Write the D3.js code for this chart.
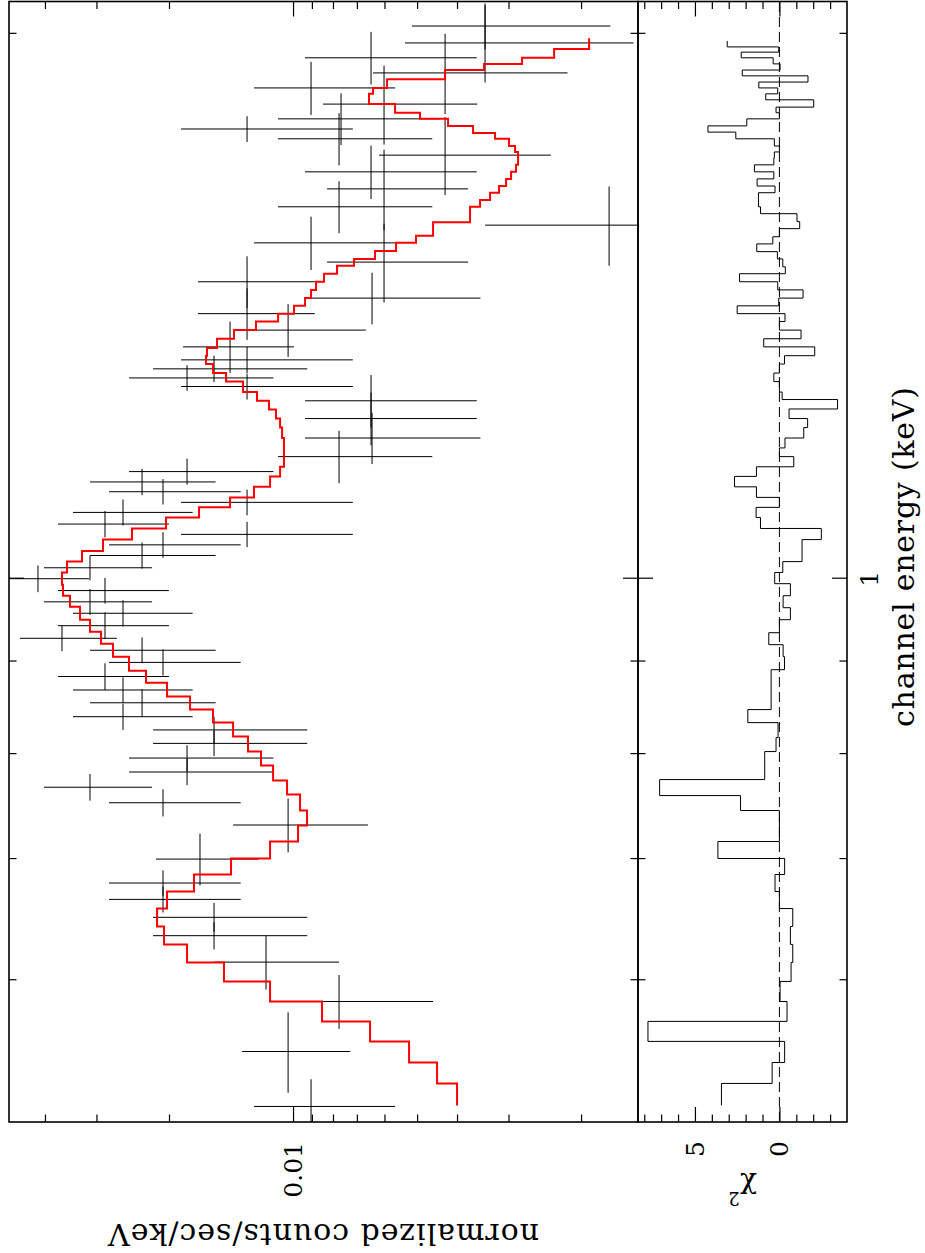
<!DOCTYPE html>
<html>
<head>
<meta charset="utf-8">
<script src="https://cdn.jsdelivr.net/npm/d3@7"></script>
<style>
  body { margin: 0; background: #fff; }
  text { font-family: "DejaVu Serif", serif; fill: #000; }
</style>
</head>
<body>
<div id="chart"></div>
<script>
// data points (listed from high to low energy)
const energy = [2.020, 1.977, 1.940, 1.903, 1.867, 1.829, 1.795, 1.772, 1.750, 1.714,
  1.678, 1.642, 1.605, 1.568, 1.533, 1.496, 1.459, 1.429, 1.401, 1.372,
  1.343, 1.321, 1.306, 1.291, 1.277, 1.254, 1.226, 1.196, 1.168, 1.146,
  1.131, 1.117, 1.102, 1.088, 1.072, 1.058, 1.044, 1.030, 1.014, 1.000,
  0.985, 0.971, 0.957, 0.942, 0.927, 0.913, 0.899, 0.883, 0.868, 0.854,
  0.839, 0.825, 0.811, 0.796, 0.782, 0.767, 0.752, 0.731, 0.700, 0.679,
  0.665, 0.650, 0.635, 0.614, 0.584, 0.548, 0.511];
const energyErr = [0.059, 0.097, 0.065, 0.097, 0.063, 0.092, 0.059, 0.029, 0.058, 0.085,
  0.057, 0.084, 0.053, 0.079, 0.052, 0.075, 0.048, 0.047, 0.046, 0.046,
  0.044, 0.022, 0.022, 0.021, 0.021, 0.042, 0.041, 0.039, 0.039, 0.019,
  0.019, 0.018, 0.018, 0.018, 0.018, 0.017, 0.017, 0.017, 0.016, 0.017,
  0.016, 0.016, 0.016, 0.016, 0.015, 0.015, 0.015, 0.015, 0.014, 0.015,
  0.014, 0.014, 0.013, 0.013, 0.013, 0.013, 0.013, 0.025, 0.023, 0.011,
  0.011, 0.012, 0.011, 0.021, 0.020, 0.028, 0.018];
const rate = [0.00342, 0.00342, 0.006467, 0.004276, 0.009043, 0.006014, 0.007647, 0.01293, 0.007733, 0.004276,
  0.006467, 0.006014, 0.007733, 0.00171, 0.009043, 0.006014, 0.01293, 0.006431, 0.01293, 0.01028,
  0.01422, 0.01293, 0.01555, 0.01808, 0.01293, 0.006467, 0.006467, 0.006431, 0.007733, 0.01808,
  0.02325, 0.02068, 0.01293, 0.02586, 0.0286, 0.01293, 0.02068, 0.02325, 0.0311, 0.04159,
  0.0286, 0.0311, 0.02586, 0.0286, 0.03637, 0.02325, 0.02068, 0.0286, 0.02586, 0.02325,
  0.02586, 0.01555, 0.01555, 0.01808, 0.01808, 0.0311, 0.02068, 0.01028, 0.01682, 0.02068,
  0.02068, 0.01555, 0.01555, 0.01163, 0.007733, 0.01028, 0.009043];
const rateErr = [0.001723, 0.001928, 0.002885, 0.002119, 0.003391, 0.002442, 0.003227, 0.00577, 0.00314, 0.001908,
  0.002885, 0.002255, 0.00314, 0.00171, 0.003391, 0.002255, 0.004074, 0.002922, 0.004074, 0.00362,
  0.004272, 0.00577, 0.006314, 0.006919, 0.00577, 0.002885, 0.002885, 0.002922, 0.00314, 0.006919,
  0.007837, 0.007281, 0.00577, 0.008337, 0.008591, 0.00577, 0.007281, 0.007837, 0.009116, 0.01031,
  0.008591, 0.009116, 0.008337, 0.008591, 0.009614, 0.007837, 0.007281, 0.008591, 0.008337, 0.007837,
  0.008337, 0.006314, 0.006314, 0.006919, 0.006919, 0.009116, 0.007281, 0.003699, 0.004686, 0.007281,
  0.007281, 0.006314, 0.006314, 0.003896, 0.003161, 0.003015, 0.003391];

// model histogram: bin edges (keV) and folded model per bin
const modelEdges = [1.989, 1.962, 1.940, 1.925, 1.910, 1.888, 1.867, 1.853, 1.829, 1.809,
  1.795, 1.779, 1.763, 1.750, 1.734, 1.721, 1.693, 1.678, 1.663, 1.648,
  1.634, 1.619, 1.605, 1.574, 1.547, 1.533, 1.517, 1.502, 1.489, 1.474,
  1.459, 1.444, 1.429, 1.415, 1.401, 1.387, 1.372, 1.357, 1.341, 1.328,
  1.314, 1.299, 1.285, 1.268, 1.254, 1.240, 1.226, 1.212, 1.196, 1.153,
  1.139, 1.124, 1.109, 1.095, 1.081, 1.066, 1.051, 1.036, 1.022, 1.008,
  0.9924, 0.9786, 0.9650, 0.9492, 0.9348, 0.9207, 0.9056, 0.8896, 0.8761, 0.8607,
  0.8466, 0.8327, 0.8180, 0.8026, 0.7884, 0.7735, 0.7599, 0.7446, 0.7305, 0.7158,
  0.7005, 0.6864, 0.6717, 0.6573, 0.6425, 0.6280, 0.6137, 0.5991, 0.5840, 0.5694,
  0.5551, 0.5404, 0.5262, 0.5117];
const modelRate = [0.001912, 0.002325, 0.002781, 0.003439, 0.004276, 0.005913, 0.006395, 0.00654, 0.005655, 0.004918,
  0.004205, 0.003657, 0.003234, 0.002991, 0.002892, 0.002844, 0.002876, 0.002957, 0.003041, 0.003162,
  0.003326, 0.003517, 0.003719, 0.004573, 0.005029, 0.005623, 0.006324, 0.007111, 0.00782, 0.008409,
  0.008794, 0.009043, 0.009351, 0.009944, 0.01087, 0.0123, 0.01391, 0.01529, 0.01617, 0.01626,
  0.01564, 0.01454, 0.01322, 0.01223, 0.01144, 0.011, 0.01075, 0.01063, 0.01052, 0.01075,
  0.01137, 0.01244, 0.01422, 0.01691, 0.02034, 0.02459, 0.02892, 0.03252, 0.03536, 0.03637,
  0.03616, 0.03478, 0.03288, 0.0311, 0.02924, 0.02735, 0.02501, 0.02274, 0.02022, 0.01778,
  0.01564, 0.01398, 0.01286, 0.01196, 0.01118, 0.01034, 0.009616, 0.009247, 0.009724, 0.01137,
  0.01414, 0.01739, 0.02022, 0.02138, 0.02056, 0.01808, 0.01471, 0.01137, 0.008504, 0.006503,
  0.005229, 0.004472, 0.003999];

// residuals: bin edges (keV) and chi-squared contribution per bin
const chiEdges = [1.982, 1.967, 1.954, 1.940, 1.925, 1.910, 1.896, 1.881, 1.867, 1.853,
  1.839, 1.822, 1.809, 1.795, 1.779, 1.765, 1.750, 1.734, 1.721, 1.708,
  1.693, 1.678, 1.663, 1.648, 1.634, 1.619, 1.605, 1.591, 1.575, 1.561,
  1.545, 1.531, 1.516, 1.502, 1.487, 1.474, 1.459, 1.444, 1.429, 1.415,
  1.401, 1.387, 1.372, 1.357, 1.343, 1.328, 1.314, 1.299, 1.285, 1.268,
  1.256, 1.241, 1.226, 1.212, 1.196, 1.181, 1.168, 1.153, 1.139, 1.124,
  1.109, 1.095, 1.081, 1.066, 1.051, 1.022, 1.008, 0.9937, 0.9786, 0.9638,
  0.9492, 0.9336, 0.9195, 0.9056, 0.8907, 0.8466, 0.8327, 0.8170, 0.8026, 0.7745,
  0.7589, 0.7446, 0.7158, 0.7005, 0.6864, 0.6717, 0.6573, 0.6425, 0.6280, 0.6137,
  0.5991, 0.5840, 0.5694, 0.5551, 0.5404, 0.5262, 0.5117];
const chiValue = [3.09, 0.04, 2.26, 0.37, -0.04, 2.20, -1.69, 1.22, 0.10, 0.81,
  -2.03, 0.20, 0.00, 1.93, 4.23, 2.58, 0.30, 0.00, 0.30, 0.33,
  1.48, 0.33, 1.32, 0.26, 1.24, 1.24, 1.12, -1.04, -1.20, 0.00,
  0.39, 1.34, 0.12, -0.20, -0.35, 2.36, 0.10, -1.40, 0.04, 2.50,
  -0.33, 0.00, -1.28, 0.93, -2.09, -0.30, 0.00, 0.33, 0.00, -0.16,
  -3.44, -0.57, -1.67, -1.44, -0.33, 0.00, -0.85, 1.36, 2.66, 1.36,
  0.00, 1.38, 1.12, -2.48, -1.34, -0.20, 0.28, -0.65, -0.22, -0.65,
  0.00, 0.63, -0.22, -0.30, 0.49, 1.87, 0.08, 0.20, 0.87, 7.09,
  2.30, 0.00, 3.64, -0.31, 0.26, 0.00, -0.79, -0.65, -0.79, -0.69,
  -0.04, -0.45, 7.78, -0.31, 0.43, 3.43];

// tick values
const energyMinor = [0.6, 0.7, 0.8, 0.9, 2];
const energyMajor = [1];
const rateMinor = [0.002, 0.003, 0.004, 0.005, 0.006, 0.007, 0.008, 0.009, 0.02, 0.03, 0.04];
const rateMajor = [0.01];
const chiMinor = [-3, -2, -1, 1, 2, 3, 4, 6, 7, 8];
const chiMajor = [0, 5];

// the plot is laid out landscape and then turned a quarter to the left
const W = 1253, H = 925;
const svg = d3.select("#chart").append("svg")
  .attr("width", H)
  .attr("height", W);

const g = svg.append("g")
  .attr("transform", "translate(0," + W + ") rotate(-90)");

const xLeft = 131, xRight = 1251.5;
const yTop = 9, yMid = 638, yBottom = 847;

const x = d3.scaleLog().domain([0.501, 2.084]).range([xLeft, xRight]);
const y = d3.scaleLog().domain([0.001455, 0.0489]).range([yMid, yTop]);
const yChi = d3.scaleLinear().domain([-4, 8.37]).range([yBottom, yMid]);

const defs = g.append("defs");
defs.append("clipPath").attr("id", "clipSpec").append("rect")
  .attr("x", xLeft).attr("y", yTop).attr("width", xRight - xLeft).attr("height", yMid - yTop);
defs.append("clipPath").attr("id", "clipChi").append("rect")
  .attr("x", xLeft).attr("y", yMid).attr("width", xRight - xLeft).attr("height", yBottom - yMid);

// data crosses
const pts = energy.map((e, i) => ({ e: e, de: energyErr[i], c: rate[i], dc: rateErr[i] }));
const spec = g.append("g").attr("clip-path", "url(#clipSpec)")
  .attr("stroke", "#000").attr("stroke-width", 1);

spec.selectAll("line.ebar")
  .data(pts)
  .enter()
  .append("line")
  .attr("class", "ebar")
  .attr("x1", d => x(d.e - d.de))
  .attr("x2", d => x(d.e + d.de))
  .attr("y1", d => y(d.c))
  .attr("y2", d => y(d.c));

spec.selectAll("line.cbar")
  .data(pts)
  .enter()
  .append("line")
  .attr("class", "cbar")
  .attr("x1", d => x(d.e))
  .attr("x2", d => x(d.e))
  .attr("y1", d => y(Math.max(d.c - d.dc, y.domain()[0] * 0.5)))
  .attr("y2", d => y(d.c + d.dc));

// step histograms
function steps(edges, vals) {
  const p = [];
  vals.forEach((v, i) => { p.push([edges[i], v], [edges[i + 1], v]); });
  return p;
}

g.append("path")
  .attr("clip-path", "url(#clipSpec)")
  .attr("d", d3.line().x(d => x(d[0])).y(d => y(d[1]))(steps(modelEdges, modelRate)))
  .attr("fill", "none")
  .attr("stroke", "#ff0000")
  .attr("stroke-width", 2);

g.append("line")
  .attr("x1", xLeft).attr("x2", xRight)
  .attr("y1", yChi(0)).attr("y2", yChi(0))
  .attr("stroke", "#000")
  .attr("stroke-width", 1)
  .attr("stroke-dasharray", "10,5");

g.append("path")
  .attr("clip-path", "url(#clipChi)")
  .attr("d", d3.line().x(d => x(d[0])).y(d => yChi(d[1]))(steps(chiEdges, chiValue)))
  .attr("fill", "none")
  .attr("stroke", "#000")
  .attr("stroke-width", 1);

// ticks point inwards on every side of both panels
function ticks(axis, scale, vals, size, tx, ty) {
  g.append("g")
    .attr("transform", "translate(" + tx + "," + ty + ")")
    .call(axis(scale).tickValues(vals).tickSize(-size).tickFormat(""))
    .call(a => a.select(".domain").remove())
    .selectAll("line").attr("stroke", "#000").attr("stroke-width", 1.2);
}

[[energyMinor, 7.5], [energyMajor, 15]].forEach(([v, s]) => {
  ticks(d3.axisTop, x, v, s, 0, yTop);
  ticks(d3.axisBottom, x, v, s, 0, yMid);
  ticks(d3.axisTop, x, v, s, 0, yMid);
  ticks(d3.axisBottom, x, v, s, 0, yBottom);
});
[[rateMinor, 7.5], [rateMajor, 15]].forEach(([v, s]) => {
  ticks(d3.axisLeft, y, v, s, xLeft, 0);
  ticks(d3.axisRight, y, v, s, xRight, 0);
});
[[chiMinor, 7.5], [chiMajor, 15]].forEach(([v, s]) => {
  ticks(d3.axisLeft, yChi, v, s, xLeft, 0);
  ticks(d3.axisRight, yChi, v, s, xRight, 0);
});

// frames
[[yTop, yMid], [yMid, yBottom]].forEach(([a, b]) => {
  g.append("rect")
    .attr("x", xLeft).attr("y", a)
    .attr("width", xRight - xLeft).attr("height", b - a)
    .attr("fill", "none")
    .attr("stroke", "#000")
    .attr("stroke-width", 1.6);
});

// tick labels
g.append("text")
  .attr("x", 111).attr("y", y(0.01)).attr("dy", "0.35em")
  .attr("text-anchor", "end").attr("font-size", 25)
  .text("0.01");

chiMajor.forEach(v => {
  g.append("text")
    .attr("x", 112).attr("y", yChi(v)).attr("dy", "0.35em")
    .attr("text-anchor", "end").attr("font-size", 25)
    .text(v);
});

energyMajor.forEach(v => {
  g.append("text")
    .attr("x", x(v)).attr("y", 860).attr("dy", "0.71em")
    .attr("text-anchor", "middle").attr("font-size", 25)
    .text(v);
});

// axis titles
g.append("text")
  .attr("x", 696).attr("y", 914)
  .attr("text-anchor", "middle").attr("font-size", 30)
  .attr("textLength", 340).attr("lengthAdjust", "spacing")
  .text("channel energy (keV)");

g.append("text")
  .attr("transform", "translate(29," + (yTop + yMid) / 2 + ") rotate(-90)")
  .attr("text-anchor", "middle").attr("font-size", 30)
  .attr("textLength", 431).attr("lengthAdjust", "spacing")
  .text("normalized counts/sec/keV");

const chiLabel = g.append("text")
  .attr("transform", "translate(74," + (yMid + yBottom) / 2 + ") rotate(-90)")
  .attr("text-anchor", "middle").attr("font-size", 28);
chiLabel.append("tspan").text("χ");
chiLabel.append("tspan").attr("font-size", 18).attr("dy", "-0.7em").text("2");
</script>
</body>
</html>
